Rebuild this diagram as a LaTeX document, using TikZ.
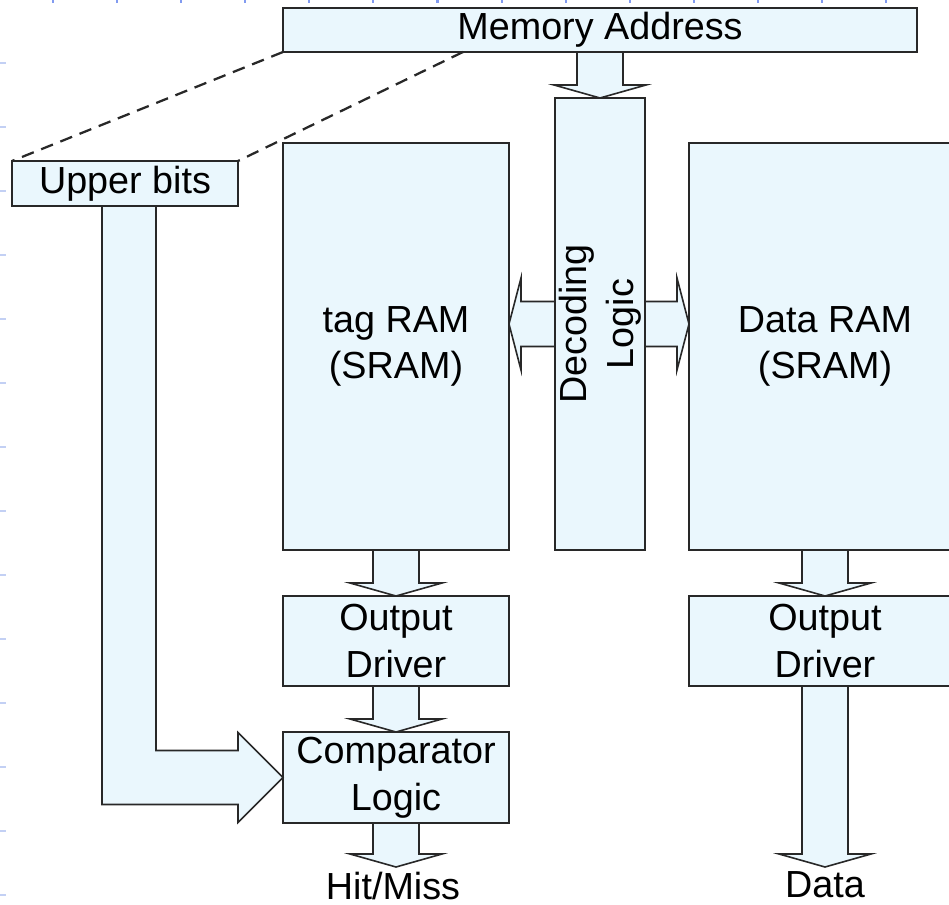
\documentclass[tikz,border=0pt]{standalone}
\usepackage{fontspec}
\setmainfont{Liberation Sans}
\usetikzlibrary{calc}

\definecolor{boxfill}{RGB}{234,247,253}
\definecolor{boxline}{RGB}{40,40,40}
\definecolor{tickblue}{RGB}{130,155,240}
\definecolor{tickpale}{RGB}{195,208,244}

% block arrow pointing down from #1 (on the source box) to the tip #2
\newcommand\blockdown[2]{%
  \draw[barrow] ($(#1)+(-23,0)$) -- ($(#2)+(-23,-13)$) -- ($(#2)+(-46,-13)$)
    -- (#2) -- ($(#2)+(46,-13)$) -- ($(#2)+(23,-13)$) -- ($(#1)+(23,0)$) -- cycle;}

\begin{document}
\begin{tikzpicture}[x=0.75pt,y=-0.75pt,
  font=\fontsize{28.3}{35}\selectfont,
  blk/.style={draw=boxline, fill=boxfill, line width=1.2pt, inner sep=0pt,
    outer sep=0pt, align=center},
  barrow/.style={draw=boxline, fill=boxfill, line width=1.2pt, line join=miter},
  lbl/.style={inner sep=0pt, outer sep=0pt},
  dashlink/.style={draw=boxline, line width=1.7pt, dash pattern=on 9.5pt off 6pt},
  tick/.style={line width=1.6pt}]
\useasboundingbox (0,0) rectangle (949,905);

% ruler marks along the top and left edges
\foreach \k in {0,...,13} {
  \draw[tick, tickblue] (53+64.08*\k,0) -- ++(0,3.5);
  \draw[tick, tickpale] (0,63+64*\k) -- ++(6,0);
}

% blocks
\node[blk, minimum width=475.5pt, minimum height=33pt] (ma) at (600,30) {Memory Address};
\node[blk, minimum width=169.5pt, minimum height=33.75pt] (ub) at (125,183.5) {Upper bits};
\node[blk, minimum width=169.5pt, minimum height=305.25pt] (tag) at (396,346.5) {tag RAM\\(SRAM)};
\node[blk, minimum width=67.5pt, minimum height=339pt] (dec) at (600,324) {};
\node[lbl, rotate=90, align=center] (declbl) at (dec.center) {Decoding\\Logic};
\node[blk, minimum width=204pt, minimum height=305.25pt] (data) at (825,346.5) {Data RAM\\(SRAM)};
\node[blk, minimum width=169.5pt, minimum height=67.5pt] (tagdrv) at (396,641) {Output\\Driver};
\node[blk, minimum width=169.5pt, minimum height=68.25pt] (cmp) at (396,777.5) {Comparator\\Logic};
\node[blk, minimum width=204pt, minimum height=67.5pt] (datadrv) at (825,641) {Output\\Driver};

% output labels
\node[lbl, anchor=base] (hit) at (393,899) {Hit/Miss};
\node[lbl, anchor=base] (dout) at (825,897) {Data};
\coordinate (hittip) at ($(cmp.south)+(0,44)$);
\coordinate (datatip) at ($(datadrv.south)+(0,181)$);

% upper address bits taken from the memory address
\draw[dashlink] (ma.south west) -- (ub.north west);
\draw[dashlink] ($(ma.south west)+(180,0)$) -- (ub.north east);

% vertical data paths
\blockdown{ma.south}{dec.north}
\blockdown{tag.south}{tagdrv.north}
\blockdown{tagdrv.south}{cmp.north}
\blockdown{cmp.south}{hittip}
\blockdown{data.south}{datadrv.north}
\blockdown{datadrv.south}{datatip}

% decoder outputs to both arrays
\draw[barrow] ($(dec.west)+(0,-22.5)$) -- ($(dec.west -| tag.east)+(12,-22.5)$)
  -- ($(dec.west -| tag.east)+(12,-46)$) -- (dec.west -| tag.east)
  -- ($(dec.west -| tag.east)+(12,46)$) -- ($(dec.west -| tag.east)+(12,22.5)$)
  -- ($(dec.west)+(0,22.5)$) -- cycle;
\draw[barrow] ($(dec.east)+(0,-22.5)$) -- ($(dec.east -| data.west)+(-12,-22.5)$)
  -- ($(dec.east -| data.west)+(-12,-46)$) -- (dec.east -| data.west)
  -- ($(dec.east -| data.west)+(-12,46)$) -- ($(dec.east -| data.west)+(-12,22.5)$)
  -- ($(dec.east)+(0,22.5)$) -- cycle;

% upper bits routed to the comparator
\draw[barrow] ($(ub.south)+(-23,0)$) -- ($(ub.south |- cmp.west)+(-23,27)$)
  -- ($(cmp.west)+(-45,27)$) -- ($(cmp.west)+(-45,45)$) -- (cmp.west)
  -- ($(cmp.west)+(-45,-45)$) -- ($(cmp.west)+(-45,-27)$)
  -- ($(ub.south |- cmp.west)+(31,-27)$) -- ($(ub.south)+(31,0)$) -- cycle;
\end{tikzpicture}
\end{document}
